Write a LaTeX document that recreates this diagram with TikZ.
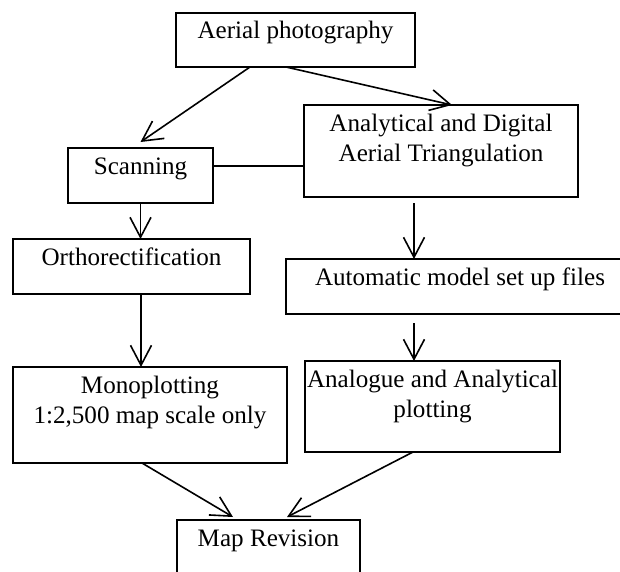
\documentclass[tikz,border=0pt]{standalone}
\usepackage{fontspec}
\setmainfont{Liberation Serif}
\usetikzlibrary{arrows.meta,calc}
\newcommand{\boxtxt}[3]{\parbox[t][#2][t]{#1}{\centering\rule{0pt}{26pt}#3}}
\begin{document}
\begin{tikzpicture}[x=1pt,y=-1pt,
  flowbox/.style={draw=black, line width=1.8pt, inner sep=0pt, outer sep=0pt,
    font=\fontsize{25.1}{30}\selectfont},
  flowarrow/.style={draw=black, line width=1.6pt,
    -{Straight Barb[length=20pt,width=21pt,line width=1.6pt]}},
  flowline/.style={draw=black, line width=1.6pt}]
\useasboundingbox (0,0) rectangle (620,571);
\fill[white] (0,0) rectangle (620,571);

\node[flowbox] (aerial) at (295.5,39.85) {\boxtxt{239pt}{54.3pt}{Aerial photography}};
\node[flowbox] (adat) at (441,151) {\boxtxt{274pt}{92pt}{Analytical and Digital\\Aerial Triangulation}};
\node[flowbox] (scan) at (140.5,175.5) {\boxtxt{145pt}{55pt}{Scanning}};
\node[flowbox] (ortho) at (131.5,266.5) {\boxtxt{237pt}{55pt}{Orthorectification}};
\node[flowbox] (amsf) at (460,286.5) {\boxtxt{348pt}{55pt}{Automatic model set up files}};
\node[flowbox] (analog) at (432.5,406.5) {\boxtxt{255pt}{91pt}{Analogue and Analytical\\plotting}};
\node[flowbox] (mono) at (150,415) {\boxtxt{274pt}{96pt}{Monoplotting\\1:2,500 map scale only}};
\node[flowbox] (maprev) at (268.5,560) {\boxtxt{183pt}{80pt}{Map Revision}};

\draw[flowarrow] ([xshift=-45.5pt]aerial.south) -- ([yshift=6pt]scan.north);
\draw[flowarrow] ([xshift=-9.5pt]aerial.south) -- ([xshift=11pt]adat.north);
\draw[flowline] ([yshift=9.5pt]scan.east) -- ([yshift=9.5pt]scan.east -| adat.west);
\draw[flowarrow] (scan.south) -- (scan.south |- ortho.north);
\draw[flowarrow] ([xshift=9.5pt]ortho.south) -- ([xshift=9.5pt]ortho.south |- mono.north);
\draw[flowarrow] ([xshift=-27pt,yshift=-6pt]adat.south) -- ([xshift=-27pt]adat.south |- amsf.north);
\draw[flowarrow] ([xshift=-46pt,yshift=-9pt]amsf.south) -- ([xshift=-46pt]amsf.south |- analog.north);
\draw[flowarrow] ([xshift=-8pt]mono.south) -- ([xshift=-35.5pt,yshift=3pt]maprev.north);
\draw[flowarrow] ([xshift=-19.5pt]analog.south) -- ([xshift=18.5pt,yshift=3pt]maprev.north);
\end{tikzpicture}
\end{document}
